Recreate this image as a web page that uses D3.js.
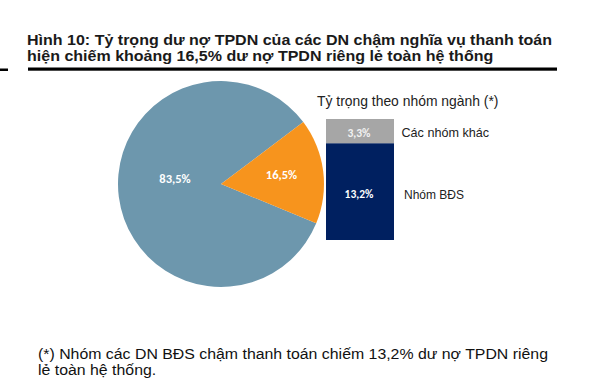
<!DOCTYPE html>
<html><head><meta charset="utf-8">
<script src="https://cdn.jsdelivr.net/npm/d3@7"></script>
<style>body{margin:0;background:#fff}svg{display:block}</style>
</head><body>
<svg id="c" width="592" height="391"></svg>
<script>
const titleLines = ["Hình 10: Tỷ trọng dư nợ TPDN của các DN chậm nghĩa vụ thanh toán", "hiện chiếm khoảng 16,5% dư nợ TPDN riêng lẻ toàn hệ thống"];
const pieLabels = ["Khác", "DN chậm thanh toán"];
const pieValues = [83.5, 16.5];
const pieText = ["83,5%", "16,5%"];
const barCategories = ["Nhóm BĐS", "Các nhóm khác"];
const barValues = [13.2, 3.3];
const barText = ["13,2%", "3,3%"];
const barTitle = "Tỷ trọng theo nhóm ngành (*)";
const footLines = ["(*) Nhóm các DN BĐS chậm thanh toán chiếm 13,2% dư nợ TPDN riêng", "lẻ toàn hệ thống."];

const svg = d3.select("#c");
const font = "'Liberation Sans', Arial, sans-serif";
const lblFont = "Carlito, Calibri, 'Liberation Sans', sans-serif";

function fitLines(sel, targetFirst) {
  const n0 = sel.nodes()[0].getComputedTextLength();
  const k = targetFirst / n0;
  sel.each(function(){
    const w = this.getComputedTextLength();
    d3.select(this).attr("textLength", w * k).attr("lengthAdjust", "spacingAndGlyphs");
  });
}

// Title
const tSel = svg.selectAll("text.title").data(titleLines).join("text").attr("class","title")
  .attr("x", 27).attr("y", (d,i)=>44.5 + i*16.2)
  .attr("font-family", font).attr("font-weight", "bold").attr("font-size", 14)
  .attr("fill", "#1a1a1a").text(d=>d);
fitLines(tSel, 525);
svg.append("rect").attr("x", 28).attr("y", 67.5).attr("width", 529).attr("height", 3.2).attr("fill", "#000");
svg.append("rect").attr("x", 0).attr("y", 68.5).attr("width", 8).attr("height", 2.5).attr("fill", "#000");

// Pie
const cx = 221, cy = 184, r = 103;
const startOrange = 53 * Math.PI/180;
const endOrange = startOrange + 2*Math.PI*pieValues[1]/d3.sum(pieValues);
const pie = d3.pie().sort(null).value(d=>d)
  .startAngle(endOrange).endAngle(endOrange + 2*Math.PI);
const arcs = pie(pieValues);
const arc = d3.arc().innerRadius(0).outerRadius(r);
const pieColors = ["#6D97AD", "#F7941D"];
const g = svg.append("g").attr("transform", `translate(${cx},${cy})`);
g.selectAll("path").data(arcs).join("path").attr("d", arc).attr("fill", (d,i)=>pieColors[i]);
const lblPos = [[-46,-6],[60.5,-10]];
g.selectAll("text").data(arcs).join("text")
  .attr("x", (d,i)=>lblPos[i][0]).attr("y", (d,i)=>lblPos[i][1])
  .attr("text-anchor","middle").attr("dominant-baseline","central")
  .attr("font-family", lblFont).attr("font-weight","bold").attr("font-size", 12.5)
  .attr("fill","#fff").text((d,i)=>pieText[i]);

// Stacked bar
const y = d3.scaleLinear().domain([0, d3.sum(barValues)]).range([240, 119]);
const barX = 326, barW = 68;
let acc = 0;
const stacks = barValues.map(v=>{const s={y0:acc,y1:acc+v}; acc+=v; return s;});
const barColors = ["#002060", "#A6A6A6"];
svg.selectAll("rect.bar").data(stacks).join("rect").attr("class","bar")
  .attr("x", barX).attr("width", barW)
  .attr("y", d=>y(d.y1)).attr("height", d=>y(d.y0)-y(d.y1))
  .attr("fill", (d,i)=>barColors[i]);
svg.selectAll("text.bl").data(stacks).join("text").attr("class","bl")
  .attr("x", barX + barW/2 - 1).attr("y", (d,i)=> i===0 ? 194 : 132.5)
  .attr("text-anchor","middle").attr("dominant-baseline","central")
  .attr("font-family", lblFont).attr("font-weight","bold").attr("font-size", 11.5)
  .attr("fill", (d,i)=> i===0 ? "#fff" : "#f2f2f2").text((d,i)=>barText[i]);
const catX = [404, 401.5];
const catY = [195, 133];
svg.selectAll("text.cat").data(barCategories).join("text").attr("class","cat")
  .attr("x",(d,i)=>catX[i]).attr("y",(d,i)=>catY[i]).attr("dominant-baseline","central")
  .attr("font-family", font).attr("font-size", (d,i)=> i===0 ? 12 : 12.6).attr("fill","#222").text(d=>d);
svg.append("text").attr("x", 317).attr("y", 106)
  .attr("font-family", font).attr("font-size", 13.9).attr("fill","#222").text(barTitle);

// Footnote
const fSel = svg.selectAll("text.foot").data(footLines).join("text").attr("class","foot")
  .attr("x", 38).attr("y",(d,i)=>359 + i*16.2)
  .attr("font-family", font).attr("font-size", 14).attr("fill","#111").text(d=>d);
fitLines(fSel, 510);
</script>
</body></html>
